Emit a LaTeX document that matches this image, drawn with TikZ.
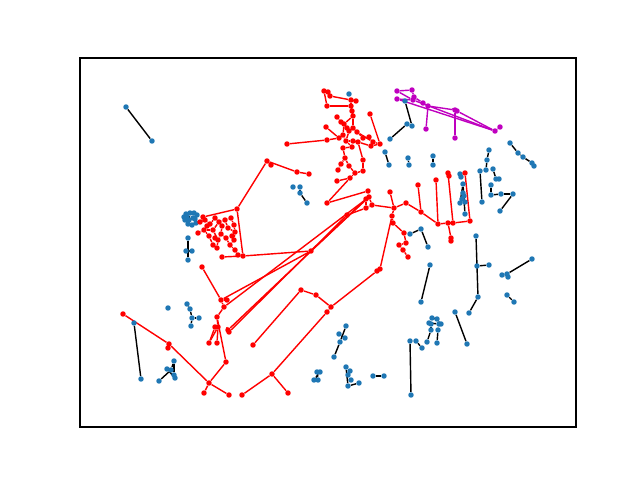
\documentclass[tikz,border=0pt]{standalone}
\usepackage{tikz}
\usepackage{xcolor}
\usetikzlibrary{backgrounds}
\definecolor{nodeblue}{HTML}{1F77B4}
\definecolor{pathred}{HTML}{FF0000}
\definecolor{pathmagenta}{HTML}{BF00BF}
\tikzset{
  bluenode/.style={circle, fill=nodeblue, inner sep=0pt, minimum size=3.9pt},
  rednode/.style={circle, fill=pathred, inner sep=0pt, minimum size=3.9pt},
  magnode/.style={circle, fill=pathmagenta, inner sep=0pt, minimum size=3.9pt},
  plainedge/.style={draw=black, line width=1pt},
  rededge/.style={draw=pathred, line width=1pt},
  magedge/.style={draw=pathmagenta, line width=1pt},
  axesframe/.style={draw=black, line width=0.8pt}
}

\begin{document}
\begin{tikzpicture}[x=0.025cm, y=-0.025cm]
\useasboundingbox (0,0) rectangle (640,480);
\draw[axesframe] (80,58) rectangle (576,427);

% blue nodes
\node[bluenode] (b1) at (126,107) {};
\node[bluenode] (b2) at (152,141) {};
\node[bluenode] (b3) at (349,94) {};
\node[bluenode] (b4) at (405,101) {};
\node[bluenode] (b5) at (407,124) {};
\node[bluenode] (b6) at (412,126) {};
\node[bluenode] (b7) at (390,139) {};
\node[bluenode] (b8) at (385,152) {};
\node[bluenode] (b9) at (389,165) {};
\node[bluenode] (b10) at (408,158) {};
\node[bluenode] (b11) at (409,165) {};
\node[bluenode] (b12) at (433,156) {};
\node[bluenode] (b13) at (433,165) {};
\node[bluenode] (b14) at (510,143) {};
\node[bluenode] (b15) at (518,153) {};
\node[bluenode] (b16) at (523,157) {};
\node[bluenode] (b17) at (532,163) {};
\node[bluenode] (b18) at (534,166) {};
\node[bluenode] (b19) at (460,174) {};
\node[bluenode] (b20) at (461,177) {};
\node[bluenode] (b21) at (463,184) {};
\node[bluenode] (b22) at (463,193) {};
\node[bluenode] (b23) at (464,196) {};
\node[bluenode] (b24) at (460,203) {};
\node[bluenode] (b25) at (462,199) {};
\node[bluenode] (b26) at (465,202) {};
\node[bluenode] (b27) at (465,214) {};
\node[bluenode] (b28) at (480,171) {};
\node[bluenode] (b29) at (482,202) {};
\node[bluenode] (b30) at (489,150) {};
\node[bluenode] (b31) at (487,160) {};
\node[bluenode] (b32) at (486,170) {};
\node[bluenode] (b33) at (493,169) {};
\node[bluenode] (b34) at (496,179) {};
\node[bluenode] (b35) at (499,179) {};
\node[bluenode] (b36) at (491,185) {};
\node[bluenode] (b37) at (491,195) {};
\node[bluenode] (b38) at (501,194) {};
\node[bluenode] (b39) at (513,194) {};
\node[bluenode] (b40) at (500,211) {};
\node[bluenode] (b41) at (410,234) {};
\node[bluenode] (b42) at (421,229) {};
\node[bluenode] (b43) at (428,247) {};
\node[bluenode] (b44) at (476,236) {};
\node[bluenode] (b45) at (478,297) {};
\node[bluenode] (b46) at (477,266) {};
\node[bluenode] (b47) at (489,265) {};
\node[bluenode] (b48) at (469,313) {};
\node[bluenode] (b49) at (532,259) {};
\node[bluenode] (b50) at (507,274) {};
\node[bluenode] (b51) at (502,275) {};
\node[bluenode] (b52) at (508,277) {};
\node[bluenode] (b53) at (507,295) {};
\node[bluenode] (b54) at (514,302) {};
\node[bluenode] (b55) at (430,265) {};
\node[bluenode] (b56) at (421,302) {};
\node[bluenode] (b57) at (410,341) {};
\node[bluenode] (b58) at (411,395) {};
\node[bluenode] (b59) at (416,341) {};
\node[bluenode] (b60) at (422,348) {};
\node[bluenode] (b61) at (455,312) {};
\node[bluenode] (b62) at (467,344) {};
\node[bluenode] (b63) at (432,318) {};
\node[bluenode] (b64) at (437,319) {};
\node[bluenode] (b65) at (429,323) {};
\node[bluenode] (b66) at (431,324) {};
\node[bluenode] (b67) at (439,324) {};
\node[bluenode] (b68) at (441,324) {};
\node[bluenode] (b69) at (431,330) {};
\node[bluenode] (b70) at (438,330) {};
\node[bluenode] (b71) at (427,342) {};
\node[bluenode] (b72) at (437,343) {};
\node[bluenode] (b73) at (346,326) {};
\node[bluenode] (b74) at (339,334) {};
\node[bluenode] (b75) at (345,338) {};
\node[bluenode] (b76) at (340,342) {};
\node[bluenode] (b77) at (334,357) {};
\node[bluenode] (b78) at (317,372) {};
\node[bluenode] (b79) at (320,372) {};
\node[bluenode] (b80) at (314,380) {};
\node[bluenode] (b81) at (318,380) {};
\node[bluenode] (b82) at (346,367) {};
\node[bluenode] (b83) at (350,371) {};
\node[bluenode] (b84) at (348,375) {};
\node[bluenode] (b85) at (351,380) {};
\node[bluenode] (b86) at (348,386) {};
\node[bluenode] (b87) at (359,383) {};
\node[bluenode] (b88) at (373,376) {};
\node[bluenode] (b89) at (384,376) {};
\node[bluenode] (b90) at (293,187) {};
\node[bluenode] (b91) at (300,187) {};
\node[bluenode] (b92) at (300,193) {};
\node[bluenode] (b93) at (307,203) {};
\node[bluenode] (b94) at (134,323) {};
\node[bluenode] (b95) at (141,379) {};
\node[bluenode] (b96) at (168,308) {};
\node[bluenode] (b97) at (187,304) {};
\node[bluenode] (b98) at (190,309) {};
\node[bluenode] (b99) at (192,318) {};
\node[bluenode] (b100) at (199,318) {};
\node[bluenode] (b101) at (191,326) {};
\node[bluenode] (b102) at (174,361) {};
\node[bluenode] (b103) at (167,369) {};
\node[bluenode] (b104) at (171,370) {};
\node[bluenode] (b105) at (174,375) {};
\node[bluenode] (b106) at (175,378) {};
\node[bluenode] (b107) at (159,381) {};
\node[bluenode] (b108) at (187,217) {};
\node[bluenode] (b109) at (190,213) {};
\node[bluenode] (b110) at (194,213) {};
\node[bluenode] (b111) at (197,215) {};
\node[bluenode] (b112) at (185,220) {};
\node[bluenode] (b113) at (188,224) {};
\node[bluenode] (b114) at (192,225) {};
\node[bluenode] (b115) at (196,223) {};
\node[bluenode] (b116) at (188,238) {};
\node[bluenode] (b117) at (186,251) {};
\node[bluenode] (b118) at (192,251) {};
\node[bluenode] (b119) at (188,260) {};
\node[bluenode] (b120) at (186,214) {};
\node[bluenode] (b121) at (193,218) {};
\node[bluenode] (b122) at (189,220) {};
\node[bluenode] (b123) at (195,219) {};
\node[bluenode] (b124) at (184,217) {};

% red nodes
\node[rednode] (r1) at (324,91) {};
\node[rednode] (r2) at (328,92) {};
\node[rednode] (r3) at (330,96) {};
\node[rednode] (r4) at (327,106) {};
\node[rednode] (r5) at (351,100) {};
\node[rednode] (r6) at (356,101) {};
\node[rednode] (r7) at (351,106) {};
\node[rednode] (r8) at (352,111) {};
\node[rednode] (r9) at (353,116) {};
\node[rednode] (r10) at (337,117) {};
\node[rednode] (r11) at (341,122) {};
\node[rednode] (r12) at (344,124) {};
\node[rednode] (r13) at (326,127) {};
\node[rednode] (r14) at (347,128) {};
\node[rednode] (r15) at (349,131) {};
\node[rednode] (r16) at (353,128) {};
\node[rednode] (r17) at (357,132) {};
\node[rednode] (r18) at (363,138) {};
\node[rednode] (r19) at (369,137) {};
\node[rednode] (r20) at (373,142) {};
\node[rednode] (r21) at (380,144) {};
\node[rednode] (r22) at (370,114) {};
\node[rednode] (r23) at (327,140) {};
\node[rednode] (r24) at (339,138) {};
\node[rednode] (r25) at (343,135) {};
\node[rednode] (r26) at (346,141) {};
\node[rednode] (r27) at (353,141) {};
\node[rednode] (r28) at (358,142) {};
\node[rednode] (r29) at (352,147) {};
\node[rednode] (r30) at (343,148) {};
\node[rednode] (r31) at (371,146) {};
\node[rednode] (r32) at (287,144) {};
\node[rednode] (r33) at (345,158) {};
\node[rednode] (r34) at (349,166) {};
\node[rednode] (r35) at (363,160) {};
\node[rednode] (r36) at (338,170) {};
\node[rednode] (r37) at (355,173) {};
\node[rednode] (r38) at (363,171) {};
\node[rednode] (r39) at (337,181) {};
\node[rednode] (r40) at (350,178) {};
\node[rednode] (r41) at (341,164) {};
\node[rednode] (r42) at (327,203) {};
\node[rednode] (r43) at (368,191) {};
\node[rednode] (r44) at (369,197) {};
\node[rednode] (r45) at (366,199) {};
\node[rednode] (r46) at (366,208) {};
\node[rednode] (r47) at (372,205) {};
\node[rednode] (r48) at (347,215) {};
\node[rednode] (r49) at (311,251) {};
\node[rednode] (r50) at (390,192) {};
\node[rednode] (r51) at (394,208) {};
\node[rednode] (r52) at (406,203) {};
\node[rednode] (r53) at (392,216) {};
\node[rednode] (r54) at (393,223) {};
\node[rednode] (r55) at (404,233) {};
\node[rednode] (r56) at (399,245) {};
\node[rednode] (r57) at (406,243) {};
\node[rednode] (r58) at (403,250) {};
\node[rednode] (r59) at (408,257) {};
\node[rednode] (r60) at (380,269) {};
\node[rednode] (r61) at (377,271) {};
\node[rednode] (r62) at (418,185) {};
\node[rednode] (r63) at (421,212) {};
\node[rednode] (r64) at (436,180) {};
\node[rednode] (r65) at (438,224) {};
\node[rednode] (r66) at (448,173) {};
\node[rednode] (r67) at (449,176) {};
\node[rednode] (r68) at (448,223) {};
\node[rednode] (r69) at (453,223) {};
\node[rednode] (r70) at (465,173) {};
\node[rednode] (r71) at (470,221) {};
\node[rednode] (r72) at (451,238) {};
\node[rednode] (r73) at (451,241) {};
\node[rednode] (r74) at (243,256) {};
\node[rednode] (r75) at (221,300) {};
\node[rednode] (r76) at (237,209) {};
\node[rednode] (r77) at (224,307) {};
\node[rednode] (r78) at (227,300) {};
\node[rednode] (r79) at (228,330) {};
\node[rednode] (r80) at (229,332) {};
\node[rednode] (r81) at (253,345) {};
\node[rednode] (r82) at (267,161) {};
\node[rednode] (r83) at (271,165) {};
\node[rednode] (r84) at (297,172) {};
\node[rednode] (r85) at (309,174) {};
\node[rednode] (r86) at (203,217) {};
\node[rednode] (r87) at (222,257) {};
\node[rednode] (r88) at (200,222) {};
\node[rednode] (r89) at (205,220) {};
\node[rednode] (r90) at (210,224) {};
\node[rednode] (r91) at (215,218) {};
\node[rednode] (r92) at (219,222) {};
\node[rednode] (r93) at (225,220) {};
\node[rednode] (r94) at (231,218) {};
\node[rednode] (r95) at (234,225) {};
\node[rednode] (r96) at (198,233) {};
\node[rednode] (r97) at (204,230) {};
\node[rednode] (r98) at (209,236) {};
\node[rednode] (r99) at (213,230) {};
\node[rednode] (r100) at (218,240) {};
\node[rednode] (r101) at (221,234) {};
\node[rednode] (r102) at (226,238) {};
\node[rednode] (r103) at (230,245) {};
\node[rednode] (r104) at (234,240) {};
\node[rednode] (r105) at (235,232) {};
\node[rednode] (r106) at (228,228) {};
\node[rednode] (r107) at (213,245) {};
\node[rednode] (r108) at (217,248) {};
\node[rednode] (r109) at (235,250) {};
\node[rednode] (r110) at (238,255) {};
\node[rednode] (r111) at (202,267) {};
\node[rednode] (r112) at (207,226) {};
\node[rednode] (r113) at (222,226) {};
\node[rednode] (r114) at (217,317) {};
\node[rednode] (r115) at (218,327) {};
\node[rednode] (r116) at (215,327) {};
\node[rednode] (r117) at (209,343) {};
\node[rednode] (r118) at (217,343) {};
\node[rednode] (r119) at (226,362) {};
\node[rednode] (r120) at (209,383) {};
\node[rednode] (r121) at (123,314) {};
\node[rednode] (r122) at (169,344) {};
\node[rednode] (r123) at (168,348) {};
\node[rednode] (r124) at (204,393) {};
\node[rednode] (r125) at (229,395) {};
\node[rednode] (r126) at (242,395) {};
\node[rednode] (r127) at (272,374) {};
\node[rednode] (r128) at (288,393) {};
\node[rednode] (r129) at (327,312) {};
\node[rednode] (r130) at (331,307) {};
\node[rednode] (r131) at (301,290) {};
\node[rednode] (r132) at (316,295) {};
\node[rednode] (r133) at (215,238) {};
\node[rednode] (r134) at (232,236) {};

% magenta nodes
\node[magnode] (m1) at (397,91) {};
\node[magnode] (m2) at (412,90) {};
\node[magnode] (m3) at (397,99) {};
\node[magnode] (m4) at (413,100) {};
\node[magnode] (m5) at (414,97) {};
\node[magnode] (m6) at (423,103) {};
\node[magnode] (m7) at (428,106) {};
\node[magnode] (m8) at (426,129) {};
\node[magnode] (m9) at (455,110) {};
\node[magnode] (m10) at (457,111) {};
\node[magnode] (m11) at (455,138) {};
\node[magnode] (m12) at (495,131) {};
\node[magnode] (m13) at (500,127) {};

\begin{scope}[on background layer]
% black edges
\draw[plainedge] (b1) -- (b2);
\draw[plainedge] (b4) -- (b6);
\draw[plainedge] (b5) -- (b7);
\draw[plainedge] (b8) -- (b9);
\draw[plainedge] (b10) -- (b11);
\draw[plainedge] (b12) -- (b13);
\draw[plainedge] (b14) -- (b15);
\draw[plainedge] (b15) -- (b16);
\draw[plainedge] (b16) -- (b17);
\draw[plainedge] (b17) -- (b18);
\draw[plainedge] (b19) -- (b20);
\draw[plainedge] (b21) -- (b24);
\draw[plainedge] (b21) -- (b27);
\draw[plainedge] (b22) -- (b26);
\draw[plainedge] (b23) -- (b25);
\draw[plainedge] (b28) -- (b29);
\draw[plainedge] (b30) -- (b31);
\draw[plainedge] (b31) -- (b32);
\draw[plainedge] (b33) -- (b34);
\draw[plainedge] (b34) -- (b35);
\draw[plainedge] (b36) -- (b37);
\draw[plainedge] (b37) -- (b38);
\draw[plainedge] (b38) -- (b39);
\draw[plainedge] (b39) -- (b40);
\draw[plainedge] (b41) -- (b42);
\draw[plainedge] (b42) -- (b43);
\draw[plainedge] (b44) -- (b45);
\draw[plainedge] (b46) -- (b47);
\draw[plainedge] (b45) -- (b48);
\draw[plainedge] (b49) -- (b50);
\draw[plainedge] (b50) -- (b52);
\draw[plainedge] (b51) -- (b52);
\draw[plainedge] (b53) -- (b54);
\draw[plainedge] (b55) -- (b56);
\draw[plainedge] (b57) -- (b58);
\draw[plainedge] (b59) -- (b60);
\draw[plainedge] (b61) -- (b62);
\draw[plainedge] (b63) -- (b64);
\draw[plainedge] (b64) -- (b68);
\draw[plainedge] (b65) -- (b67);
\draw[plainedge] (b66) -- (b69);
\draw[plainedge] (b69) -- (b71);
\draw[plainedge] (b67) -- (b70);
\draw[plainedge] (b70) -- (b72);
\draw[plainedge] (b73) -- (b76);
\draw[plainedge] (b74) -- (b75);
\draw[plainedge] (b76) -- (b77);
\draw[plainedge] (b78) -- (b81);
\draw[plainedge] (b79) -- (b80);
\draw[plainedge] (b82) -- (b86);
\draw[plainedge] (b83) -- (b84);
\draw[plainedge] (b86) -- (b87);
\draw[plainedge] (b88) -- (b89);
\draw[plainedge] (b91) -- (b92);
\draw[plainedge] (b92) -- (b93);
\draw[plainedge] (b94) -- (b95);
\draw[plainedge] (b97) -- (b98);
\draw[plainedge] (b98) -- (b99);
\draw[plainedge] (b99) -- (b100);
\draw[plainedge] (b99) -- (b101);
\draw[plainedge] (b102) -- (b104);
\draw[plainedge] (b104) -- (b107);
\draw[plainedge] (b103) -- (b106);
\draw[plainedge] (b102) -- (b105);
\draw[plainedge] (b109) -- (b113);
\draw[plainedge] (b116) -- (b119);
\draw[plainedge] (b117) -- (b118);

% red edges, upper cluster
\draw[rededge] (r1) -- (r2);
\draw[rededge] (r1) -- (r4);
\draw[rededge] (r2) -- (r3);
\draw[rededge] (r3) -- (r5);
\draw[rededge] (r4) -- (r7);
\draw[rededge] (r5) -- (r6);
\draw[rededge] (r5) -- (r7);
\draw[rededge] (r7) -- (r8);
\draw[rededge] (r8) -- (r9);
\draw[rededge] (r9) -- (r12);
\draw[rededge] (r9) -- (r16);
\draw[rededge] (r10) -- (r11);
\draw[rededge] (r11) -- (r12);
\draw[rededge] (r12) -- (r14);
\draw[rededge] (r12) -- (r25);
\draw[rededge] (r14) -- (r15);
\draw[rededge] (r15) -- (r16);
\draw[rededge] (r15) -- (r26);
\draw[rededge] (r16) -- (r17);
\draw[rededge] (r17) -- (r18);
\draw[rededge] (r17) -- (r20);
\draw[rededge] (r18) -- (r19);
\draw[rededge] (r19) -- (r20);
\draw[rededge] (r20) -- (r21);
\draw[rededge] (r22) -- (r21);
\draw[rededge] (r13) -- (r24);
\draw[rededge] (r23) -- (r24);
\draw[rededge] (r24) -- (r25);
\draw[rededge] (r25) -- (r26);
\draw[rededge] (r26) -- (r27);
\draw[rededge] (r27) -- (r28);
\draw[rededge] (r28) -- (r31);
\draw[rededge] (r31) -- (r21);
\draw[rededge] (r26) -- (r29);
\draw[rededge] (r29) -- (r30);
\draw[rededge] (r30) -- (r33);
\draw[rededge] (r33) -- (r34);
\draw[rededge] (r41) -- (r33);
\draw[rededge] (r36) -- (r41);
\draw[rededge] (r34) -- (r37);
\draw[rededge] (r37) -- (r40);
\draw[rededge] (r40) -- (r39);
\draw[rededge] (r35) -- (r38);
\draw[rededge] (r38) -- (r37);
\draw[rededge] (r35) -- (r28);
\draw[rededge] (r32) -- (r23);
\draw[rededge] (r42) -- (r40);
\draw[rededge] (r42) -- (r43);
\draw[rededge] (r43) -- (r44);
\draw[rededge] (r44) -- (r45);
\draw[rededge] (r45) -- (r46);
\draw[rededge] (r46) -- (r47);
\draw[rededge] (r44) -- (r47);
\draw[rededge] (r48) -- (r46);
% red edges, right branch
\draw[rededge] (r47) -- (r51);
\draw[rededge] (r51) -- (r52);
\draw[rededge] (r50) -- (r51);
\draw[rededge] (r51) -- (r53);
\draw[rededge] (r53) -- (r54);
\draw[rededge] (r54) -- (r55);
\draw[rededge] (r55) -- (r57);
\draw[rededge] (r57) -- (r56);
\draw[rededge] (r56) -- (r58);
\draw[rededge] (r58) -- (r59);
\draw[rededge] (r53) -- (r60);
\draw[rededge] (r60) -- (r61);
\draw[rededge] (r61) -- (r130);
\draw[rededge] (r52) -- (r63);
\draw[rededge] (r62) -- (r63);
\draw[rededge] (r63) -- (r65);
\draw[rededge] (r64) -- (r65);
\draw[rededge] (r65) -- (r68);
\draw[rededge] (r68) -- (r69);
\draw[rededge] (r69) -- (r71);
\draw[rededge] (r66) -- (r69);
\draw[rededge] (r66) -- (r67);
\draw[rededge] (r70) -- (r71);
\draw[rededge] (r68) -- (r72);
\draw[rededge] (r72) -- (r73);
% red edges, long links
\draw[rededge] (r49) -- (r44);
\draw[rededge] (r49) -- (r74);
\draw[rededge] (r75) -- (r49);
\draw[rededge] (r77) -- (r44);
\draw[rededge] (r79) -- (r45);
\draw[rededge] (r80) -- (r48);
\draw[rededge] (r81) -- (r131);
% red edges, left cluster
\draw[rededge] (r82) -- (r83);
\draw[rededge] (r82) -- (r84);
\draw[rededge] (r84) -- (r85);
\draw[rededge] (r82) -- (r76);
\draw[rededge] (r86) -- (r76);
\draw[rededge] (r76) -- (r74);
\draw[rededge] (r87) -- (r74);
\draw[rededge] (r86) -- (r88);
\draw[rededge] (r88) -- (r89);
\draw[rededge] (r89) -- (r90);
\draw[rededge] (r90) -- (r91);
\draw[rededge] (r91) -- (r92);
\draw[rededge] (r92) -- (r93);
\draw[rededge] (r93) -- (r94);
\draw[rededge] (r94) -- (r95);
\draw[rededge] (r96) -- (r97);
\draw[rededge] (r97) -- (r98);
\draw[rededge] (r97) -- (r99);
\draw[rededge] (r90) -- (r97);
\draw[rededge] (r92) -- (r99);
\draw[rededge] (r99) -- (r100);
\draw[rededge] (r100) -- (r101);
\draw[rededge] (r101) -- (r102);
\draw[rededge] (r102) -- (r103);
\draw[rededge] (r103) -- (r104);
\draw[rededge] (r104) -- (r105);
\draw[rededge] (r105) -- (r106);
\draw[rededge] (r106) -- (r93);
\draw[rededge] (r95) -- (r105);
\draw[rededge] (r107) -- (r108);
\draw[rededge] (r108) -- (r100);
\draw[rededge] (r98) -- (r107);
\draw[rededge] (r103) -- (r109);
\draw[rededge] (r109) -- (r110);
\draw[rededge] (r112) -- (r90);
\draw[rededge] (r113) -- (r101);
\draw[rededge] (r133) -- (r100);
\draw[rededge] (r134) -- (r104);
% red edges, lower part
\draw[rededge] (r111) -- (r75);
\draw[rededge] (r75) -- (r78);
\draw[rededge] (r75) -- (r77);
\draw[rededge] (r77) -- (r114);
\draw[rededge] (r114) -- (r115);
\draw[rededge] (r115) -- (r117);
\draw[rededge] (r115) -- (r118);
\draw[rededge] (r116) -- (r117);
\draw[rededge] (r114) -- (r119);
\draw[rededge] (r119) -- (r120);
\draw[rededge] (r79) -- (r80);
\draw[rededge] (r121) -- (r122);
\draw[rededge] (r122) -- (r123);
\draw[rededge] (r122) -- (r120);
\draw[rededge] (r120) -- (r124);
\draw[rededge] (r120) -- (r125);
\draw[rededge] (r126) -- (r127);
\draw[rededge] (r127) -- (r128);
\draw[rededge] (r127) -- (r129);
\draw[rededge] (r129) -- (r130);
\draw[rededge] (r131) -- (r132);
\draw[rededge] (r132) -- (r130);

% magenta edges
\draw[magedge] (m1) -- (m2);
\draw[magedge] (m1) -- (m4);
\draw[magedge] (m3) -- (m4);
\draw[magedge] (m2) -- (m5);
\draw[magedge] (m5) -- (m6);
\draw[magedge] (m6) -- (m7);
\draw[magedge] (m7) -- (m8);
\draw[magedge] (m7) -- (m9);
\draw[magedge] (m9) -- (m10);
\draw[magedge] (m9) -- (m11);
\draw[magedge] (m10) -- (m12);
\draw[magedge] (m3) -- (m12);
\draw[magedge] (m4) -- (m12);
\draw[magedge] (m12) -- (m13);
\end{scope}
\end{tikzpicture}
\end{document}
